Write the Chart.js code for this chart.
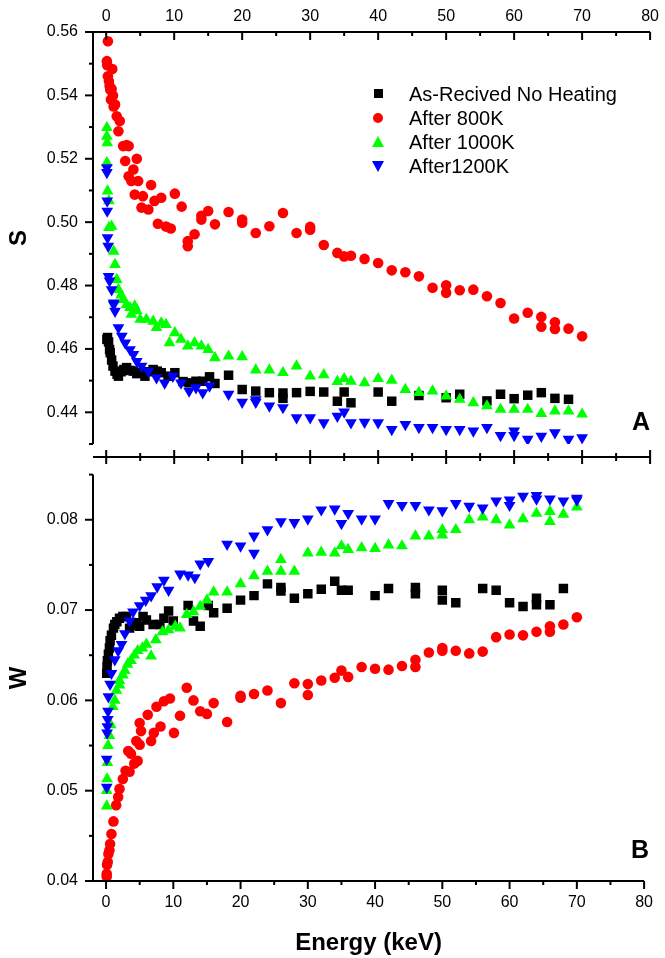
<!DOCTYPE html>
<html>
<head>
<meta charset="utf-8">
<script src="https://cdn.jsdelivr.net/npm/chart.js@4.4.1/dist/chart.umd.min.js"></script>
<style>
  html, body { margin: 0; padding: 0; background: #fff; }
  body { width: 665px; height: 958px; position: relative; overflow: hidden;
         font-family: "Liberation Sans", Arial, Helvetica, sans-serif; }
  canvas { position: absolute; left: 0; }
  #cA { top: 0; }
  #cB { top: 450px; }
  #legend { position: absolute; left: 360px; top: 81.5px; }
  .row { position: relative; height: 24.2px; line-height: 24.2px; font-size: 20px; color: #000; white-space: nowrap; padding-left: 49px; }
  .mk { position: absolute; }
  .panel { position: absolute; font-weight: bold; font-size: 25px; line-height: 1; transform: translate(-50%, -50%); color: #000; }
</style>
</head>
<body>
<canvas id="cA" width="665" height="470" style="width:665px;height:470px"></canvas>
<canvas id="cB" width="665" height="508" style="width:665px;height:508px"></canvas>
<div id="legend"></div>
<div class="panel" style="left:641px;top:421px">A</div>
<div class="panel" style="left:640px;top:849px">B</div>
<script>
// ---------------- data ----------------
const seriesNames = ['As-Recived No Heating', 'After 800K', 'After 1000K', 'After1200K'];

const xTicks = [0, 10, 20, 30, 40, 50, 60, 70, 80];
const xMinorTicks = [5, 15, 25, 35, 45, 55, 65, 75];
const sTicks = [0.44, 0.46, 0.48, 0.50, 0.52, 0.54, 0.56];
const sMinorTicks = [0.43, 0.45, 0.47, 0.49, 0.51, 0.53, 0.55];
const wTicks = [0.04, 0.05, 0.06, 0.07, 0.08];
const wMinorTicks = [0.045, 0.055, 0.065, 0.075, 0.085];

// Panel A : S parameter
const sBlackE = [0.1,0.2,0.35,0.5,0.6,0.8,1.0,1.3,1.6,1.8,2.2,2.6,3.0,3.5,4.0,4.5,5.0,5.7,6.3,6.9,7.5,8.1,9.1,10.1,11.3,12.2,13.2,14.2,15.2,16,18,20,22,24,26,26,28,30,32,34,35,36,40,42,46,50,52,56,58,60,62,64,66,68];
const sBlackV = [0.4630,0.4636,0.4622,0.4598,0.4588,0.4565,0.4546,0.4530,0.4520,0.4514,0.4528,0.4535,0.4541,0.4532,0.4530,0.4522,0.4525,0.4514,0.4528,0.4535,0.4530,0.4525,0.4514,0.4525,0.4497,0.4493,0.4498,0.4498,0.4512,0.4491,0.4517,0.4472,0.4467,0.4462,0.4461,0.4444,0.4462,0.4466,0.4464,0.4435,0.4464,0.4430,0.4464,0.4435,0.4453,0.4446,0.4457,0.4436,0.4457,0.4443,0.4454,0.4462,0.4444,0.4441];

const sRedE = [0.25,0.1,0.15,0.4,0.9,0.25,0.5,0.6,0.8,0.7,1.0,1.1,1.3,1.55,1.8,2.0,2.5,3.0,3.3,2.8,3.3,3.7,4.0,4.5,4.7,4.2,5.4,5.2,6.2,6.6,7.1,7.6,8.1,8.8,9.5,10.1,11.1,12,12,13,14,14,15,16,18,20,20,22,24,26,28,30,30,32,34,35,36,38,40,42,44,46,48,50,50,52,54,56,58,60,62,64,64,66,66,68,70];
const sRedV = [0.5571,0.5508,0.5495,0.5445,0.5483,0.5460,0.5430,0.5418,0.5420,0.5387,0.5400,0.5365,0.5371,0.5334,0.5287,0.5319,0.5240,0.5243,0.5240,0.5193,0.5145,0.5130,0.5166,0.5200,0.5130,0.5087,0.5082,0.5046,0.5040,0.5117,0.5067,0.4995,0.5077,0.4986,0.4980,0.5090,0.5049,0.4924,0.4940,0.4962,0.5020,0.5008,0.5035,0.4993,0.5032,0.5008,0.4998,0.4966,0.4987,0.5029,0.4966,0.4976,0.4985,0.4928,0.4903,0.4892,0.4894,0.4884,0.4871,0.4848,0.4842,0.4829,0.4793,0.4801,0.4777,0.4785,0.4787,0.4766,0.4745,0.4696,0.4714,0.4701,0.4670,0.4684,0.4663,0.4664,0.4640];

const sGreenE = [0.1,0.1,0.15,0.1,0.2,0.4,0.4,0.8,1.1,1.3,1.55,1.8,2.2,2.5,3.0,3.5,3.7,4.2,4.5,5.0,5.9,6.9,7.4,8.1,8.8,9.3,10.1,11,12,13,14,15,16,18,20,22,24,26,28,30,32,34,35,36,38,40,42,44,46,48,50,52,54,56,58,60,62,64,66,68,70];
const sGreenV = [0.5298,0.5271,0.5250,0.5187,0.5098,0.5067,0.4983,0.4987,0.4908,0.4866,0.4819,0.4787,0.4770,0.4756,0.4740,0.4730,0.4709,0.4735,0.4720,0.4693,0.4693,0.4687,0.4667,0.4682,0.4677,0.4619,0.4651,0.4630,0.4609,0.4619,0.4609,0.4598,0.4572,0.4577,0.4575,0.4533,0.4533,0.4525,0.4546,0.4514,0.4518,0.4497,0.4506,0.4498,0.4493,0.4506,0.4501,0.4472,0.4462,0.4467,0.4451,0.4441,0.4430,0.4420,0.4409,0.4409,0.4409,0.4396,0.4404,0.4404,0.4394];

const sBlueE = [0.1,0.1,0.15,0.15,0.2,0.3,0.35,0.5,0.8,1.1,1.1,1.3,1.8,2.3,2.8,3.5,4.0,4.5,5.2,6.2,7.4,8.6,9.8,11,12.2,13.2,14.2,15.2,18,20,22,22,24,26,28,30,32,34,35,36,38,40,42,44,46,48,50,52,54,56,58,60,60,62,64,66,68,70];
const sBlueV = [0.5172,0.5157,0.5067,0.5035,0.4951,0.4924,0.4829,0.4815,0.4787,0.4745,0.4740,0.4719,0.4667,0.4640,0.4619,0.4598,0.4583,0.4561,0.4546,0.4530,0.4509,0.4493,0.4514,0.4493,0.4467,0.4478,0.4462,0.4483,0.4457,0.4432,0.4432,0.4440,0.4420,0.4415,0.4383,0.4383,0.4367,0.4388,0.4401,0.4367,0.4369,0.4367,0.4346,0.4362,0.4352,0.4352,0.4346,0.4346,0.4341,0.4352,0.4327,0.4341,0.4327,0.4315,0.4325,0.4336,0.4315,0.4320];

// Panel B : W parameter
const wBlackE = [0.1,0.15,0.2,0.35,0.5,0.6,0.8,1.1,1.3,1.6,2.0,2.5,3.0,3.5,4.0,4.5,5.0,5.5,6.0,7.0,8.0,8.6,9.3,10.0,12.2,13.0,14.0,15.2,16,18,20,22,24,26,26,28,30,32,34,35,36,40,42,46,46,50,50,52,56,58,60,62,64,64,66,68];
const wBlackV = [0.0630,0.0637,0.0644,0.0651,0.0658,0.0666,0.0672,0.0680,0.0684,0.0687,0.0691,0.0693,0.0693,0.0680,0.0683,0.0686,0.0682,0.0693,0.0689,0.0684,0.0684,0.0691,0.0699,0.0688,0.0705,0.0688,0.0682,0.0705,0.0697,0.0702,0.0711,0.0716,0.0729,0.0725,0.0721,0.0713,0.0718,0.0723,0.0732,0.0722,0.0722,0.0716,0.0724,0.0725,0.0718,0.0722,0.0711,0.0708,0.0724,0.0722,0.0708,0.0704,0.0713,0.0706,0.0706,0.0724];

const wRedE = [0.1,0.1,0.15,0.25,0.35,0.5,0.6,0.8,1.1,1.5,1.8,2.0,2.5,2.9,3.5,3.3,3.7,4.2,4.7,4.5,5.0,5.0,5.2,6.2,6.7,7.1,7.5,8.1,8.6,9.5,10.1,11,12,13,14,15,16,18,20,20,22,24,26,28,30,30,32,34,35,36,38,40,42,44,46,46,48,50,50,52,54,56,58,60,62,64,66,66,68,70];
const wRedV = [0.0405,0.0408,0.0418,0.0421,0.0430,0.0434,0.0441,0.0452,0.0466,0.0484,0.0493,0.0502,0.0513,0.0522,0.0521,0.0544,0.0541,0.0530,0.0533,0.0555,0.0551,0.0575,0.0566,0.0584,0.0555,0.0564,0.0593,0.0571,0.0599,0.0602,0.0564,0.0583,0.0614,0.0600,0.0588,0.0585,0.0597,0.0576,0.0605,0.0603,0.0607,0.0611,0.0597,0.0619,0.0618,0.0606,0.0622,0.0625,0.0633,0.0626,0.0637,0.0635,0.0634,0.0638,0.0645,0.0637,0.0653,0.0658,0.0655,0.0655,0.0652,0.0654,0.0670,0.0673,0.0672,0.0676,0.0682,0.0676,0.0684,0.0692];

const wGreenE = [0.1,0.1,0.15,0.2,0.3,0.5,0.7,1.0,1.3,1.55,2.0,2.0,2.5,2.8,3.2,3.7,4.2,4.7,5.4,6.0,6.7,7.4,8.4,9.3,10.3,11,12,13,14,15,16,18,20,22,24,26,26,28,30,32,34,35,36,38,40,42,44,46,48,50,50,52,54,56,58,60,62,64,66,66,68,70];
const wGreenV = [0.0483,0.0500,0.0513,0.0531,0.0550,0.0561,0.0573,0.0593,0.0600,0.0611,0.0617,0.0622,0.0628,0.0633,0.0640,0.0644,0.0650,0.0655,0.0658,0.0662,0.0649,0.0667,0.0676,0.0678,0.0682,0.0680,0.0695,0.0698,0.0704,0.0711,0.0720,0.0720,0.0729,0.0738,0.0743,0.0743,0.0756,0.0743,0.0763,0.0764,0.0763,0.0771,0.0767,0.0769,0.0768,0.0772,0.0771,0.0782,0.0782,0.0789,0.0783,0.0789,0.0800,0.0803,0.0800,0.0794,0.0801,0.0807,0.0809,0.0798,0.0806,0.0814];

const wBlueE = [0.1,0.1,0.15,0.2,0.25,0.3,0.35,0.6,0.8,1.3,1.8,2.3,2.8,3.5,4.0,5.0,5.9,6.7,7.6,8.6,9.3,11,12.2,13.2,14,15.2,18,20,22,22,24,26,28,30,32,34,35,36,38,40,42,44,46,48,50,52,54,56,58,60,60,62,64,64,66,68,70,70];
const wBlueV = [0.0504,0.0535,0.0564,0.0571,0.0579,0.0588,0.0604,0.0618,0.0630,0.0645,0.0655,0.0662,0.0674,0.0688,0.0698,0.0705,0.0711,0.0716,0.0726,0.0733,0.0722,0.0740,0.0739,0.0736,0.0751,0.0754,0.0773,0.0771,0.0782,0.0763,0.0789,0.0798,0.0797,0.0801,0.0811,0.0812,0.0796,0.0807,0.0801,0.0801,0.0818,0.0816,0.0816,0.0811,0.0810,0.0818,0.0815,0.0813,0.0821,0.0822,0.0816,0.0826,0.0827,0.0823,0.0823,0.0821,0.0824,0.0822];

// ---------------- styling ----------------
const FONT = "'Liberation Sans', Arial, Helvetica, sans-serif";
const X_MIN = -1.94, X_MAX = 80;
const S_MIN = 0.43, S_MAX = 0.56;
const W_MIN = 0.04, W_MAX = 0.085;
const LW = 2;

const styles = [
  { color: '#000000', pointStyle: 'rect', radius: 6.7, rotation: 0, order: 4 },
  { color: '#ff0000', pointStyle: 'circle', radius: 5.3, rotation: 0, order: 3 },
  { color: '#00ff00', pointStyle: 'triangle', radius: 6.8, rotation: 0, order: 2 },
  { color: '#0000ff', pointStyle: 'triangle', radius: 6.8, rotation: 180, order: 1 }
];

function pts(E, V) { return E.map((e, i) => ({ x: e, y: V[i] })); }
function ds(i, E, V) {
  const st = styles[i];
  return {
    label: seriesNames[i], data: pts(E, V), order: st.order,
    pointStyle: st.pointStyle, pointRadius: st.radius, pointRotation: st.rotation,
    backgroundColor: st.color, borderColor: st.color, borderWidth: 0,
    pointBorderWidth: 0, showLine: false
  };
}

function axesPlugin(cfg) {
  return {
    id: 'axes_' + cfg.name,
    afterDraw(chart) {
      const { ctx, chartArea: a } = chart;
      const xs = chart.scales.x, ys = chart.scales.y;
      ctx.save();
      ctx.strokeStyle = '#000';
      ctx.lineWidth = LW;
      const seg = (x1, y1, x2, y2) => { ctx.beginPath(); ctx.moveTo(x1, y1); ctx.lineTo(x2, y2); ctx.stroke(); };
      // left axis
      seg(a.left, a.top - (cfg.top ? LW / 2 : 0), a.left, a.bottom + (cfg.bottom ? LW / 2 : 0));
      cfg.yMajor.forEach(v => { const p = ys.getPixelForValue(v); seg(a.left - 8, p, a.left, p); });
      cfg.yMinor.forEach(v => { const p = ys.getPixelForValue(v); seg(a.left - 4, p, a.left, p); });
      if (cfg.top) {
        seg(a.left, a.top, a.right, a.top);
        xTicks.forEach(v => { const p = xs.getPixelForValue(v); seg(p, a.top, p, a.top + 8); });
        xMinorTicks.forEach(v => { const p = xs.getPixelForValue(v); seg(p, a.top, p, a.top + 4); });
      }
      if (cfg.bottom) {
        seg(a.left, a.bottom, a.right, a.bottom);
        xTicks.forEach(v => { const p = xs.getPixelForValue(v); seg(p, a.bottom, p, a.bottom + 8); });
        xMinorTicks.forEach(v => { const p = xs.getPixelForValue(v); seg(p, a.bottom, p, a.bottom + 4); });
      }
      if (cfg.divider) {
        const yy = a.bottom + cfg.divider;
        seg(a.left, yy, a.right, yy);
        xTicks.forEach(v => { const p = xs.getPixelForValue(v); seg(p, yy - 7, p, yy + 7); });
        xMinorTicks.forEach(v => { const p = xs.getPixelForValue(v); seg(p, yy - 4, p, yy + 4); });
      }
      ctx.restore();
    }
  };
}

function baseOptions(o) {
  return {
    responsive: false, animation: false, events: [],
    layout: { padding: o.padding },
    plugins: { legend: { display: false }, tooltip: { enabled: false } },
    scales: {
      x: {
        type: 'linear', position: o.xPos, min: X_MIN, max: X_MAX,
        afterBuildTicks: s => { s.ticks = xTicks.map(v => ({ value: v })); },
        afterFit: s => { s.height = o.xHeight; },
        grid: { display: false, drawTicks: false }, border: { display: false },
        ticks: { font: { family: FONT, size: 16 }, color: '#000', padding: o.xPad, maxRotation: 0, autoSkip: false,
                 callback: v => String(v) },
        title: o.xTitle ? { display: true, text: o.xTitle, color: '#000', font: { family: FONT, size: 24, weight: 'bold' }, padding: { top: 0, bottom: 0 } } : { display: false }
      },
      y: {
        type: 'linear', position: 'left', min: o.yMin, max: o.yMax,
        afterBuildTicks: s => { s.ticks = o.yTicks.map(v => ({ value: v })); },
        afterFit: s => { s.width = 93; },
        grid: { display: false, drawTicks: false }, border: { display: false },
        ticks: { font: { family: FONT, size: 16 }, color: '#000', padding: 15, autoSkip: false,
                 callback: v => Number(v).toFixed(2) },
        title: { display: true, text: o.yTitle, color: '#000', font: { family: FONT, size: 24, weight: 'bold' }, padding: { top: 5, bottom: 0 } }
      }
    }
  };
}

new Chart(document.getElementById('cA'), {
  type: 'scatter',
  data: { datasets: [ds(0, sBlackE, sBlackV), ds(1, sRedE, sRedV), ds(2, sGreenE, sGreenV), ds(3, sBlueE, sBlueV)] },
  options: baseOptions({ padding: { left: 0, right: 10, top: 0, bottom: 26 }, xPos: 'top', xHeight: 32, xPad: 6,
                         yMin: S_MIN, yMax: S_MAX, yTicks: sTicks, yTitle: 'S' }),
  plugins: [axesPlugin({ name: 'A', top: true, bottom: false, divider: 13, yMajor: sTicks, yMinor: sMinorTicks })]
});

new Chart(document.getElementById('cB'), {
  type: 'scatter',
  data: { datasets: [ds(0, wBlackE, wBlackV), ds(1, wRedE, wRedV), ds(2, wGreenE, wGreenV), ds(3, wBlueE, wBlueV)] },
  options: baseOptions({ padding: { left: 0, right: 10, top: 17, bottom: 0 }, xPos: 'bottom', xHeight: 77, xPad: 12,
                         xTitle: 'Energy (keV)', yMin: W_MIN, yMax: W_MAX, yTicks: wTicks, yTitle: 'W' }),
  plugins: [axesPlugin({ name: 'B', top: false, bottom: true, divider: 0, yMajor: wTicks, yMinor: wMinorTicks })]
});

// ---------------- legend (HTML) ----------------
const legend = document.getElementById('legend');
seriesNames.forEach((name, i) => {
  const row = document.createElement('div');
  row.className = 'row';
  row.textContent = name;
  const mk = document.createElement('div');
  mk.className = 'mk';
  const c = styles[i].color;
  if (i === 0) { Object.assign(mk.style, { left: '13.5px', top: '7.6px', width: '9px', height: '9px', background: c }); }
  if (i === 1) { Object.assign(mk.style, { left: '13px', top: '7.1px', width: '10px', height: '10px', borderRadius: '50%', background: c }); }
  if (i === 2) { Object.assign(mk.style, { left: '12px', top: '6.6px', width: 0, height: 0, borderLeft: '6px solid transparent', borderRight: '6px solid transparent', borderBottom: '11px solid ' + c }); }
  if (i === 3) { Object.assign(mk.style, { left: '12px', top: '6.6px', width: 0, height: 0, borderLeft: '6px solid transparent', borderRight: '6px solid transparent', borderTop: '11px solid ' + c }); }
  row.appendChild(mk);
  legend.appendChild(row);
});
</script>
</body>
</html>
